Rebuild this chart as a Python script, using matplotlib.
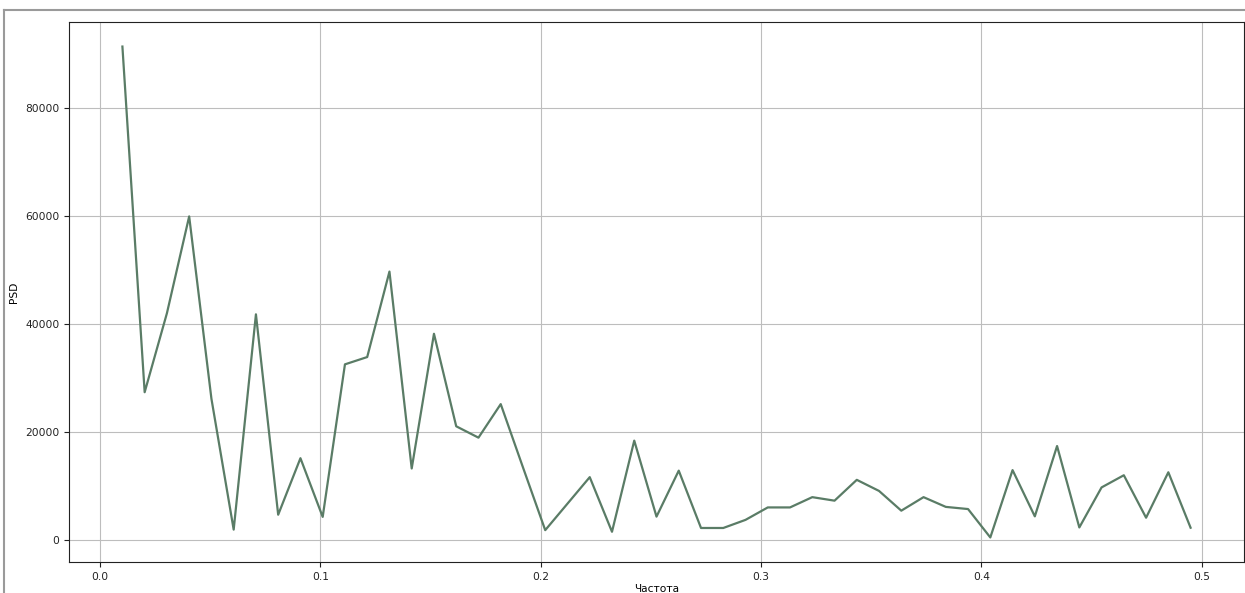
import matplotlib
matplotlib.use("Agg")
import matplotlib.pyplot as plt
from matplotlib.lines import Line2D
import numpy as np

# frequency bins k/99, k = 1..49
freq = np.arange(1, 50) / 99
psd = [91300, 27400, 42000, 59900, 26200, 2000, 41800, 4750, 15200, 4350,
       32550, 33900, 49700, 13300, 38200, 21100, 19000, 25200, 13500, 1900,
       6800, 11700, 1600, 18450, 4400, 12900, 2300, 2300, 3800, 6100,
       6100, 8000, 7350, 11200, 9150, 5500, 8000, 6200, 5800, 550,
       13000, 4450, 17450, 2400, 9800, 12050, 4200, 12600, 2350]

plt.rcParams['font.size'] = 7.7
plt.rcParams['text.color'] = '#222222'
plt.rcParams['xtick.color'] = '#222222'
plt.rcParams['ytick.color'] = '#222222'
plt.rcParams['axes.edgecolor'] = '#222222'

fig = plt.figure(figsize=(12.45, 5.93), dpi=100)
ax = fig.add_axes([69 / 1245, 1 - 562 / 593, 1175 / 1245, 540 / 593])

ax.plot(freq, psd, color='#5a7c66', lw=1.6)
ax.grid(True, color='#bdbdbd', lw=0.8)
ax.set_xlabel('Частота', labelpad=2)
ax.set_ylabel('PSD')

# output cell frame
fig.add_artist(Line2D([4 / 1245, 4 / 1245], [0, 1 - 10 / 593],
                      transform=fig.transFigure, color='#9a9a9a', lw=1.5))
fig.add_artist(Line2D([4 / 1245, 1], [1 - 10 / 593, 1 - 10 / 593],
                      transform=fig.transFigure, color='#9a9a9a', lw=1.5))

fig.savefig('out.png', dpi=100)
